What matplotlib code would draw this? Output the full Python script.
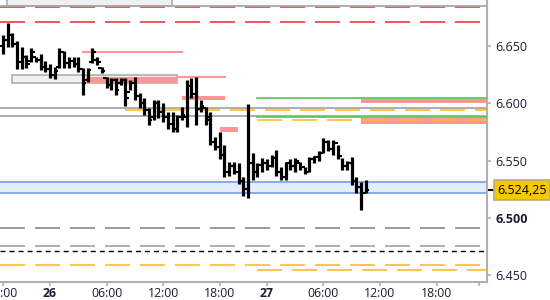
import numpy as np
import matplotlib.pyplot as plt
from matplotlib.patches import Rectangle

plt.rcParams['font.family'] = ['Open Sans', 'DejaVu Sans']
plt.rcParams['lines.scale_dashes'] = False

# 30 minute bars, x = trading hours from 26 00:00 (night break squeezed out)
bar_hours = np.arange(-10, 68) * 0.5
opens = [6650, 6655, 6660, 6652, 6636, 6640, 6637, 6640, 6638, 6632,
         6630, 6625, 6632, 6645, 6635, 6637, 6634, 6630, 6620, 6636,
         6638, 6631, 6622, 6616, 6620, 6618, 6620, 6610, 6618, 6606,
         6600, 6594, 6588, 6600, 6592, 6588, 6582, 6578, 6588, 6588,
         6615, 6608, 6595, 6596, 6588, 6566, 6562, 6555, 6540, 6545,
         6540, 6532, 6525, 6548, 6540, 6546, 6548, 6545, 6552, 6540,
         6536, 6548, 6545, 6548, 6544, 6540, 6551, 6553, 6557, 6566,
         6560, 6565, 6554, 6545, 6548, 6532, 6527, 6522]
highs = [6660, 6670, 6661, 6654, 6649, 6642, 6648, 6640, 6643, 6637,
         6634, 6632, 6648, 6646, 6640, 6640, 6640, 6631, 6631, 6648,
         6640, 6632, 6623, 6622, 6622, 6622, 6622, 6620, 6623, 6609,
         6605, 6596, 6603, 6603, 6600, 6592, 6592, 6590, 6597, 6620,
         6622, 6623, 6603, 6597, 6592, 6571, 6575, 6564, 6549, 6549,
         6548, 6536, 6599, 6557, 6548, 6552, 6551, 6555, 6559, 6544,
         6549, 6551, 6552, 6549, 6544, 6553, 6554, 6558, 6570, 6568,
         6568, 6564, 6552, 6550, 6553, 6536, 6531, 6533]
lows = [6643, 6649, 6649, 6630, 6630, 6631, 6636, 6636, 6629, 6627,
        6622, 6621, 6631, 6631, 6631, 6632, 6627, 6607, 6619, 6635,
        6633, 6626, 6613, 6612, 6607, 6616, 6598, 6612, 6603, 6596,
        6590, 6581, 6585, 6587, 6584, 6578, 6575, 6575, 6585, 6579,
        6605, 6581, 6592, 6581, 6564, 6559, 6551, 6536, 6537, 6538,
        6530, 6519, 6517, 6533, 6536, 6540, 6542, 6544, 6537, 6533,
        6533, 6542, 6540, 6542, 6538, 6540, 6548, 6550, 6557, 6558,
        6555, 6551, 6542, 6542, 6529, 6522, 6507, 6522]
closes = [6655, 6660, 6652, 6636, 6640, 6634, 6645, 6638, 6632, 6630,
          6625, 6628, 6645, 6635, 6637, 6634, 6630, 6618, 6629, 6645,
          6636, 6628, 6616, 6620, 6612, 6620, 6605, 6618, 6606, 6600,
          6594, 6585, 6600, 6592, 6588, 6582, 6578, 6588, 6590, 6615,
          6608, 6595, 6598, 6585, 6566, 6562, 6555, 6540, 6545, 6540,
          6532, 6525, 6548, 6540, 6546, 6548, 6545, 6552, 6540, 6536,
          6548, 6545, 6550, 6544, 6540, 6551, 6553, 6557, 6566, 6560,
          6565, 6554, 6545, 6548, 6532, 6527, 6522, 6524.25]
last_price = 6524.25

tick_hours = [-5, 0, 6, 12, 18, 23, 29, 35, 41, 45.5]
tick_labels = ['18:00', '26', '06:00', '12:00', '18:00', '27', '06:00', '12:00', '18:00', '']
price_ticks = [6450, 6500, 6550, 6600, 6650]

# horizontal levels
red_dashed = [6683.8, 6670.7]
gray_solid = [6684.9, 6595.6, 6588.7]
blue_zone = (6521.5, 6531.2)
gray_dashed = [(6490.9, '#808080'), (6475.5, '#999999')]
black_dashed = [6471.1]
orange_dashed = [(-5.3, 6458.9), (21.95, 6454.5), (21.95, 6585.4), (7.95, 6594.2)]
green_lines = [(21.95, 6604.4), (21.95, 6588.0)]
salmon_lines = [(3.5, 14.0, 6645.0), (13.57, 18.56, 6623.0)]
salmon_bands = [(3.82, 13.47, 6617.7, 6622.9), (14.0, 18.56, 6602.9, 6606.4),
                (18.03, 19.94, 6575.0, 6579.3), (32.98, 46.4, 6600.3, 6603.8),
                (32.98, 46.4, 6582.0, 6587.0)]
gray_boxes = [(-4.56, 12.94, 6685.0, 6700.0), (-4.03, 13.47, 6617.5, 6624.7)]

xmin, xmax = -5.3, 46.35
ymin, ymax = 6444.1, 6690.1

fig = plt.figure(figsize=(5.5, 3), dpi=100)
ax = fig.add_axes([0, 0.06, 487 / 550, 0.94])
ax.set_xlim(xmin, xmax)
ax.set_ylim(ymin, ymax)

long_dash = (0, (18, 7.2))

for x0, x1, y0, y1 in gray_boxes:
    ax.add_patch(Rectangle((x0, y0), x1 - x0, y1 - y0, fc='#f0f0f0', ec='#a8a8a8', lw=1.1, zorder=1))

ax.axhspan(blue_zone[0], blue_zone[1], color='#e6ecff', lw=0, zorder=1)
for y in blue_zone:
    ax.axhline(y, color='#6b96ec', lw=1.1, zorder=2)

for x0, x1, y0, y1 in salmon_bands:
    ax.fill_between([x0, x1], y0, y1, color='#ff9696', lw=0, zorder=2)
for x0, x1, y in salmon_lines:
    ax.plot([x0, x1], [y, y], color='#ff9696', lw=1.5, zorder=2)

for y in red_dashed:
    ax.axhline(y, color='#e42a2a', lw=1.1, ls=long_dash, zorder=2)
for y in gray_solid:
    ax.axhline(y, color='#a8a8a8', lw=1.3, zorder=2)
for y, c in gray_dashed:
    ax.axhline(y, color=c, lw=1.1, ls=long_dash, zorder=2)
for y in black_dashed:
    ax.axhline(y, color='black', lw=1.0, ls=(0, (3.6, 2.9)), zorder=2)
for x0, y in orange_dashed:
    ax.plot([x0, xmax], [y, y], color='#ffba2a', lw=1.2, ls=long_dash, zorder=3)
for x0, y in green_lines:
    ax.plot([x0, xmax], [y, y], color='#4ec94e', lw=1.2, zorder=3)

# OHLC bars
ax.vlines(bar_hours, lows, highs, color='black', lw=2.3, zorder=5)
ax.hlines(opens, bar_hours - 0.36, bar_hours, color='black', lw=1.5, zorder=5)
ax.hlines(closes, bar_hours, bar_hours + 0.36, color='black', lw=1.5, zorder=5)

for s in ['top', 'left']:
    ax.spines[s].set_visible(False)
for s in ['right', 'bottom']:
    ax.spines[s].set_color('#b0b0b0')
    ax.spines[s].set_linewidth(1.5)

ax.yaxis.tick_right()
ax.set_yticks(price_ticks)
ax.set_yticklabels(['{:,}'.format(p).replace(',', '.') for p in price_ticks])
ax.set_xticks(tick_hours)
ax.set_xticklabels(tick_labels)
ax.tick_params(axis='both', colors='#b0b0b0', labelcolor='#1c1c34', labelsize=9, length=3, width=1.2)
ax.tick_params(axis='y', pad=3)
ax.tick_params(axis='x', pad=0.5, labelsize=8.8)
for lbl in ax.get_xticklabels():
    if lbl.get_text() in ('26', '27'):
        lbl.set_fontweight('bold')
for lbl in ax.get_yticklabels():
    if lbl.get_text() == '6.500':
        lbl.set_fontweight('bold')

# last price marker
tr = ax.get_yaxis_transform()
ax.plot([1.0, 1.012], [last_price, last_price], color='black', lw=1.4, transform=tr, clip_on=False)
ax.text(1.0205, last_price, '{:,.2f}'.format(last_price).replace(',', ' ').replace('.', ',').replace(' ', '.'),
        transform=tr, ha='left', va='center', fontsize=9, color='black',
        bbox=dict(boxstyle='square,pad=0.25', fc='#f5c800', ec='#b8ab70', lw=1.2))

fig.savefig('out.png', dpi=100)
